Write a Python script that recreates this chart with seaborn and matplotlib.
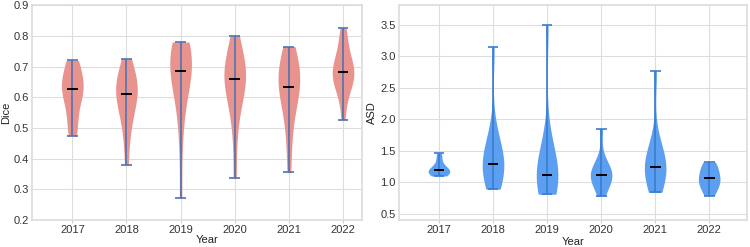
import numpy as np
import pandas as pd
import matplotlib
matplotlib.use('Agg')
import matplotlib.pyplot as plt
import seaborn as sns

years = ['2017', '2018', '2019', '2020', '2021', '2022']

# Dice 값 (연도별)
dice_2017 = [0.475, 0.49, 0.53, 0.57, 0.60, 0.615, 0.627, 0.635, 0.645, 0.66, 0.69, 0.71, 0.72]
dice_2018 = [0.38, 0.47, 0.52, 0.55, 0.58, 0.60, 0.61, 0.625, 0.64, 0.65, 0.665, 0.69, 0.725]
dice_2019 = [0.273, 0.45, 0.55, 0.60, 0.64, 0.66, 0.675, 0.685, 0.70, 0.72, 0.74, 0.75, 0.765, 0.775, 0.78]
dice_2020 = [0.337, 0.48, 0.56, 0.60, 0.63, 0.65, 0.66, 0.67, 0.69, 0.70, 0.72, 0.75, 0.80]
dice_2021 = [0.355, 0.46, 0.53, 0.58, 0.61, 0.625, 0.635, 0.66, 0.68, 0.69, 0.71, 0.74, 0.765]
dice_2022 = [0.527, 0.60, 0.63, 0.65, 0.665, 0.675, 0.681, 0.69, 0.70, 0.72, 0.75, 0.79, 0.825]

# ASD 값 (연도별)
asd_2017 = [1.10, 1.12, 1.14, 1.16, 1.18, 1.19, 1.20, 1.22, 1.28, 1.38, 1.46]
asd_2018 = [0.89, 1.0, 1.08, 1.15, 1.2, 1.25, 1.29, 1.33, 1.4, 1.5, 1.62, 1.8, 3.14]
asd_2019 = [0.81, 0.88, 0.95, 1.0, 1.04, 1.08, 1.11, 1.15, 1.22, 1.3, 1.45, 1.7, 3.49]
asd_2020 = [0.78, 0.92, 1.0, 1.06, 1.1, 1.12, 1.14, 1.18, 1.25, 1.35, 1.85]
asd_2021 = [0.84, 0.98, 1.08, 1.14, 1.2, 1.25, 1.29, 1.35, 1.45, 1.6, 2.77]
asd_2022 = [0.79, 0.86, 0.93, 0.98, 1.02, 1.06, 1.1, 1.16, 1.22, 1.28, 1.32]

dice_sets = [dice_2017, dice_2018, dice_2019, dice_2020, dice_2021, dice_2022]
asd_sets = [asd_2017, asd_2018, asd_2019, asd_2020, asd_2021, asd_2022]


def to_long(sets, name):
    rows = []
    for yr, vals in zip(years, sets):
        for v in vals:
            rows.append({'Year': yr, name: v})
    return pd.DataFrame(rows)


sns.set_theme(style='whitegrid')
plt.rcParams['font.family'] = ['Liberation Sans', 'DejaVu Sans']
plt.rcParams['axes.edgecolor'] = '#dddddd'
plt.rcParams['grid.color'] = '#dddddd'

fig = plt.figure(figsize=(7.5, 2.47), dpi=100)
ax1 = fig.add_axes([0.043, 0.109, 0.440, 0.870])
ax2 = fig.add_axes([0.532, 0.109, 0.464, 0.870])

W = 0.4


def draw(ax, sets, name, body, line, ylim, xlim, yticks):
    df = to_long(sets, name)
    sns.violinplot(ax=ax, data=df, x='Year', y=name, order=years, cut=0,
                   inner=None, density_norm='width', width=W, color=body,
                   saturation=1, linewidth=0)
    for i, vals in enumerate(sets):
        lo, hi, med = min(vals), max(vals), float(np.median(vals))
        ax.vlines(i, lo, hi, color=line, lw=1.2, zorder=3)
        ax.hlines([lo, hi], i - W / 4, i + W / 4, color=line, lw=1.2, zorder=3)
        ax.hlines(med, i - W / 4, i + W / 4, color='black', lw=1.4, zorder=4)
    ax.set_ylim(*ylim)
    ax.set_xlim(*xlim)
    ax.set_yticks(yticks)
    ax.set_yticklabels(['%.1f' % t for t in yticks])
    ax.set_xlabel('Year', fontsize=8, labelpad=1.5, color='#222222')
    ax.set_ylabel(name, fontsize=8, labelpad=2, color='#222222')
    ax.tick_params(axis='x', labelsize=8, colors='#333333', length=2,
                   width=0.8, pad=1.5, bottom=True)
    ax.tick_params(axis='x', color='#cccccc')
    ax.tick_params(axis='y', labelsize=8, labelcolor='#333333', length=0, pad=2.5)
    ax.grid(True, color='#dddddd', lw=0.8)
    ax.set_axisbelow(True)


draw(ax1, dice_sets, 'Dice', '#e8938e', '#4f72b3', (0.2, 0.9), (-0.74, 5.355),
     np.arange(0.2, 0.91, 0.1))
draw(ax2, asd_sets, 'ASD', '#5c9ff0', '#3a7bd0', (0.40, 3.81), (-0.74, 5.70),
     np.arange(0.5, 3.51, 0.5))

# 왼쪽 그래프의 Year 라벨은 원본에서 약간 오른쪽에 위치
ax1.xaxis.set_label_coords(0.53, -0.07, transform=ax1.transAxes)
ax1.xaxis.label.set_verticalalignment('top')

fig.savefig('out.png', dpi=100)
